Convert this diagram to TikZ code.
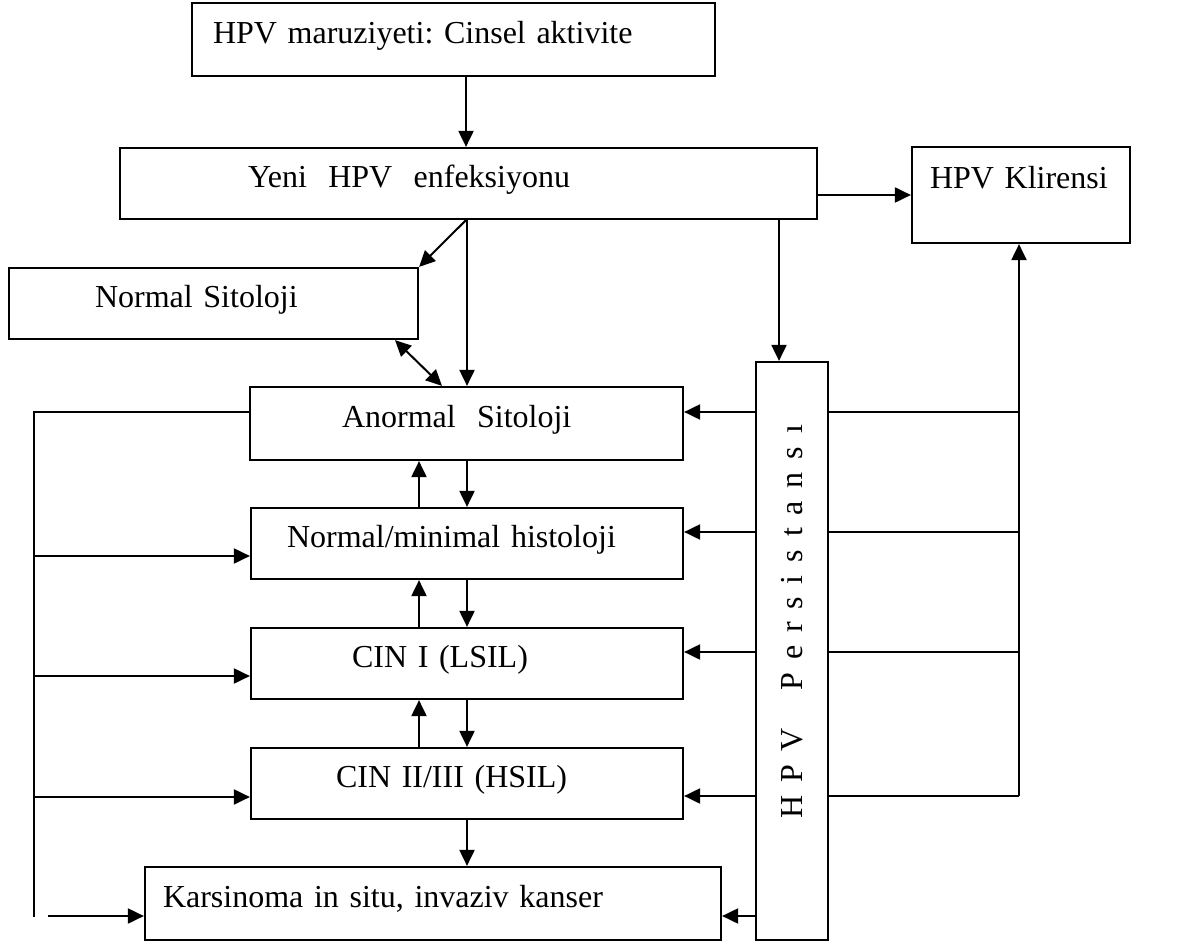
\documentclass[tikz,border=0pt]{standalone}
\usepackage{fontspec}
\setmainfont{Liberation Serif}
\frenchspacing
\usetikzlibrary{arrows.meta}
\tikzset{
  frame/.style={draw, line width=1.1pt},
  box/.style={frame, align=left, inner ysep=0pt, text height=12pt, text depth=8pt},
  link/.style={line width=1pt, -{Triangle[length=8pt,width=7.5pt]}},
  both/.style={line width=1pt, {Triangle[length=8pt,width=7.5pt]}-{Triangle[length=8pt,width=7.5pt]}}
}
\begin{document}
\begin{tikzpicture}[x=0.5pt, y=-0.5pt, font=\fontsize{16}{19}\selectfont]
\useasboundingbox (0,0) rectangle (1197,945);
\foreach \n/\x/\y/\w/\h/\i/\t [evaluate=\i as \tw using \w-2*\i] in {
    expo/453.5/39.5/261.5/36.5/10.5/{HPV maruziyeti: Cinsel aktivite},
    infect/468.5/183.5/348.5/35.5/64/{Yeni~~HPV~~enfeksiyonu},
    normcyt/213.5/303.5/204.5/35.5/43/{Normal Sitoloji},
    abncyt/466.5/423.5/216.5/36.5/46/{Anormal~~Sitoloji},
    histo/467/543.5/216/35.5/18/{Normal/minimal histoloji},
    cin1/467/663.5/216/35.5/50.5/{CIN I (LSIL)},
    cin23/467/783.5/216/35.5/42.5/{CIN II/III (HSIL)},
    cancer/433/903.5/288/36.5/9/{Karsinoma in situ, invaziv kanser}}{
  \node[box, minimum width=\w pt, minimum height=\h pt, inner xsep=\i pt, text width=\tw pt] (\n) at (\x,\y) {\t};
}
\node[box, minimum width=109pt, minimum height=48pt, inner xsep=9pt, text width=91pt, text depth=18pt] (clear) at (1021,195) {HPV Klirensi};
\node[frame, minimum width=36pt, minimum height=289pt, inner sep=0pt] (persist) at (792,651)
  {\rotatebox{90}{\hspace*{29.5pt}\makebox[196.5pt][s]{H\hfill P\hfill V\hfill\hspace{6pt}\hfill P\hfill e\hfill r\hfill s\hfill i\hfill s\hfill t\hfill a\hfill n\hfill s\hfill ı}}};
\coordinate (lbus) at (34,412);
\coordinate (lend) at (34,917);
\coordinate (rbus) at (1019,796);
\coordinate (lfoot) at (48,916);

\draw[link] (expo.south -| 466,0) -- (infect.north -| 466,0);
\draw[link] (infect.east |- 0,195) -- (clear.west |- 0,195);
\draw[link] (infect.south -| 466,0) -- (normcyt.north east);
\draw[link] (infect.south -| 467,0) -- (abncyt.north -| 467,0);
\draw[link] (infect.south -| 779,0) -- (persist.north -| 779,0);
\draw[both] (normcyt.south -| 395,0) -- (abncyt.north -| 442,0);
\foreach \a/\b in {abncyt/histo, histo/cin1, cin1/cin23}{
  \draw[link] (\a.south -| 467,0) -- (\b.north -| 467,0);
  \draw[link] (\b.north -| 419,0) -- (\a.south -| 419,0);
}
\draw[link] (cin23.south -| 467,0) -- (cancer.north -| 467,0);
\foreach \b/\y in {abncyt/412, histo/532, cin1/652, cin23/796}{
  \draw[link] (persist.west |- 0,\y) -- (\b.east |- 0,\y);
  \draw[line width=1pt] (persist.east |- 0,\y) -- (rbus |- 0,\y);
}
\draw[link] (persist.west |- 0,916) -- (cancer.east |- 0,916);
\draw[link] (rbus) -- (clear.south -| rbus);
\draw[line width=1pt] (abncyt.west |- lbus) -- (lbus) -- (lend);
\foreach \b/\y in {histo/556, cin1/676, cin23/797}{
  \draw[link] (lbus |- 0,\y) -- (\b.west |- 0,\y);
}
\draw[link] (lfoot) -- (cancer.west |- lfoot);
\end{tikzpicture}
\end{document}
